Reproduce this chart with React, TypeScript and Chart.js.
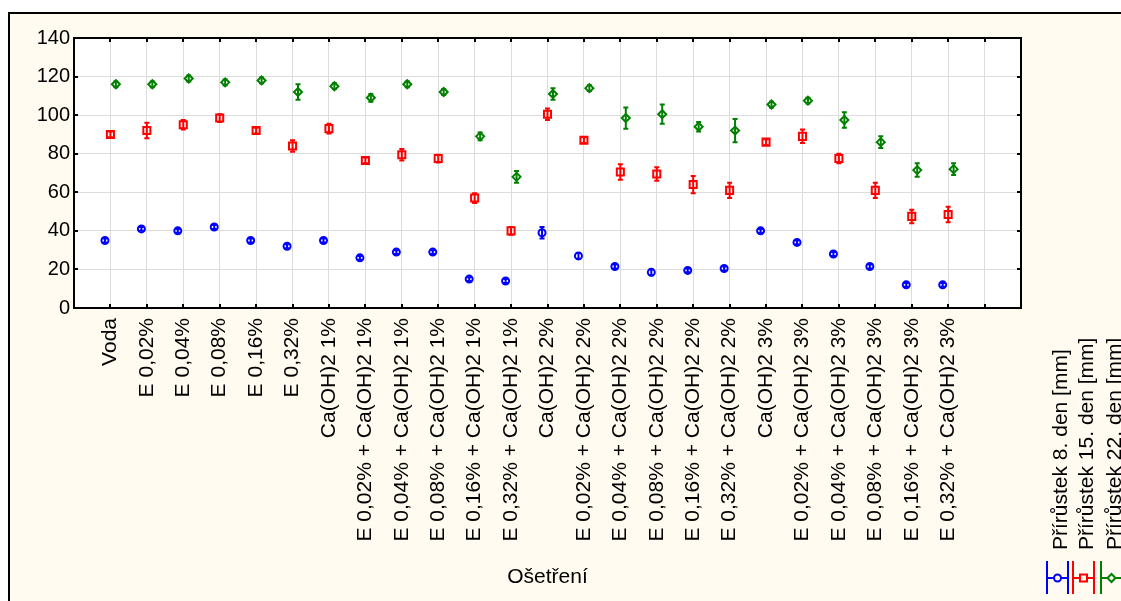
import React, { useEffect, useRef } from "react";
import { Chart, registerables } from "chart.js";

Chart.register(...registerables);

const categories = [
  "Voda",
  "E 0,02%",
  "E 0,04%",
  "E 0,08%",
  "E 0,16%",
  "E 0,32%",
  "Ca(OH)2 1%",
  "E 0,02% + Ca(OH)2 1%",
  "E 0,04% + Ca(OH)2 1%",
  "E 0,08% + Ca(OH)2 1%",
  "E 0,16% + Ca(OH)2 1%",
  "E 0,32% + Ca(OH)2 1%",
  "Ca(OH)2 2%",
  "E 0,02% + Ca(OH)2 2%",
  "E 0,04% + Ca(OH)2 2%",
  "E 0,08% + Ca(OH)2 2%",
  "E 0,16% + Ca(OH)2 2%",
  "E 0,32% + Ca(OH)2 2%",
  "Ca(OH)2 3%",
  "E 0,02% + Ca(OH)2 3%",
  "E 0,04% + Ca(OH)2 3%",
  "E 0,08% + Ca(OH)2 3%",
  "E 0,16% + Ca(OH)2 3%",
  "E 0,32% + Ca(OH)2 3%",
];

const seriesNames = [
  "Přírůstek 8. den [mm]",
  "Přírůstek 15. den [mm]",
  "Přírůstek 22. den [mm]",
];

const day8 = [35, 41, 40, 42, 35, 32, 35, 26, 29, 29, 15, 14, 39, 27, 21.5, 18.5, 19.5, 20.5, 40, 34, 28, 21.5, 12, 12];
const day15 = [90, 92, 95, 98.5, 92, 84, 93, 76.5, 79.5, 77.5, 57, 40, 100.5, 87, 70.5, 69.5, 64, 61, 86, 89, 77.5, 61, 47.5, 48.5];
const day22 = [116, 116, 119, 117, 118, 112, 115, 109, 116, 112, 89, 68, 111, 114, 98.5, 100.5, 94, 92, 105.5, 107.5, 97.5, 86, 71.5, 72];

const err8 = [1, 1, 1, 1, 1, 1, 1, 1, 1, 1, 1, 1, 3, 1.5, 1, 1.5, 1, 1, 1, 1, 1, 1, 1, 1];
const err15 = [1.5, 4, 2.5, 2, 1.5, 3, 2.5, 1.5, 3, 2, 2.5, 2, 3, 1.5, 4, 3.5, 4.5, 4, 1.5, 3.5, 2.5, 4, 3.5, 4];
const err22 = [1.5, 1.5, 1.5, 1.5, 1.5, 4, 1.5, 2, 1.5, 1.5, 2, 3, 3, 1.5, 5.5, 5, 2.5, 6, 1.5, 1.5, 4, 3, 3.5, 3];

const yTicks = [0, 20, 40, 60, 80, 100, 120, 140];

const FONT = "'Liberation Sans', Arial, sans-serif";
const colors = ["#0000ff", "#ff0000", "#008000"];
const styles = ["circle", "rect", "rectRot"];
const radii = [3.5, 5, 4];
const offsets = [-0.15, 0, 0.15];
const values = [day8, day15, day22];
const errors = [err8, err15, err22];

const framePlugin = {
  id: "frame",
  beforeDraw(chart: any) {
    const { ctx, width, height, chartArea } = chart;
    ctx.save();
    ctx.fillStyle = "#ffffff";
    ctx.fillRect(0, 0, width, height);
    ctx.fillStyle = "#fffbf0";
    ctx.fillRect(8, 12, width - 8, height - 12);
    ctx.strokeStyle = "#000000";
    ctx.lineWidth = 2;
    ctx.beginPath();
    ctx.moveTo(9, height + 2);
    ctx.lineTo(9, 13);
    ctx.lineTo(width + 2, 13);
    ctx.stroke();
    ctx.fillStyle = "#ffffff";
    ctx.fillRect(chartArea.left, chartArea.top, chartArea.right - chartArea.left, chartArea.bottom - chartArea.top);
    ctx.restore();
  },
  beforeDatasetsDraw(chart: any) {
    const { ctx, scales } = chart;
    ctx.save();
    ctx.lineWidth = 2;
    values.forEach((vals, s) => {
      ctx.strokeStyle = colors[s];
      vals.forEach((v, i) => {
        const x = scales.x.getPixelForValue(i + 1 + offsets[s]);
        const yt = scales.y.getPixelForValue(v + errors[s][i]);
        const yb = scales.y.getPixelForValue(v - errors[s][i]);
        ctx.beginPath();
        ctx.moveTo(x, yt);
        ctx.lineTo(x, yb);
        ctx.moveTo(x - 2.5, yt);
        ctx.lineTo(x + 2.5, yt);
        ctx.moveTo(x - 2.5, yb);
        ctx.lineTo(x + 2.5, yb);
        ctx.stroke();
      });
    });
    ctx.restore();
  },
  afterDraw(chart: any) {
    const { ctx, chartArea, scales } = chart;
    const { left, right, top, bottom } = chartArea;
    ctx.save();
    ctx.strokeStyle = "#000000";
    ctx.lineWidth = 2;
    ctx.strokeRect(left, top, right - left, bottom - top);
    ctx.beginPath();
    for (let k = 1; k <= 25; k++) {
      const x = Math.round(scales.x.getPixelForValue(k));
      ctx.moveTo(x, top);
      ctx.lineTo(x, top + 4);
      ctx.moveTo(x, bottom);
      ctx.lineTo(x, bottom - 4);
    }
    yTicks.slice(1, -1).forEach((t) => {
      const y = Math.round(scales.y.getPixelForValue(t));
      ctx.moveTo(left, y);
      ctx.lineTo(left + 4, y);
      ctx.moveTo(right, y);
      ctx.lineTo(right - 4, y);
    });
    ctx.stroke();

    // legend
    const xs = [1047, 1073, 1101];
    seriesNames.forEach((name, s) => {
      const x0 = xs[s];
      const w = 21;
      ctx.strokeStyle = colors[s];
      ctx.lineWidth = 2;
      ctx.beginPath();
      ctx.moveTo(x0, 561);
      ctx.lineTo(x0, 594);
      ctx.moveTo(x0 + w, 561);
      ctx.lineTo(x0 + w, 594);
      ctx.moveTo(x0, 578);
      ctx.lineTo(x0 + w, 578);
      ctx.stroke();
      ctx.fillStyle = "#fffbf0";
      const cx = x0 + w / 2;
      ctx.beginPath();
      if (styles[s] === "circle") ctx.arc(cx, 578, 3.5, 0, Math.PI * 2);
      else if (styles[s] === "rect") ctx.rect(cx - 3.5, 574.5, 7, 7);
      else {
        ctx.moveTo(cx, 574);
        ctx.lineTo(cx + 4, 578);
        ctx.lineTo(cx, 582);
        ctx.lineTo(cx - 4, 578);
        ctx.closePath();
      }
      ctx.fill();
      ctx.stroke();
      ctx.save();
      ctx.translate(x0 + 20, 550);
      ctx.rotate(-Math.PI / 2);
      ctx.fillStyle = "#000000";
      ctx.font = `21px ${FONT}`;
      ctx.textAlign = "left";
      ctx.textBaseline = "alphabetic";
      ctx.fillText(name, 0, 0);
      ctx.restore();
    });
    ctx.restore();
  },
};

export default function App() {
  const ref = useRef<HTMLCanvasElement>(null);
  useEffect(() => {
    if (!ref.current) return;
    const datasets = values.map((vals, s) => ({
      label: seriesNames[s],
      data: vals.map((v, i) => ({ x: i + 1 + offsets[s], y: v })),
      pointStyle: styles[s] as any,
      pointRadius: radii[s],
      pointHoverRadius: radii[s],
      borderWidth: 2,
      borderColor: colors[s],
      backgroundColor: "rgba(0,0,0,0)",
      showLine: false,
    }));
    const chart = new Chart(ref.current, {
      type: "scatter",
      data: { datasets },
      plugins: [framePlugin],
      options: {
        animation: false,
        responsive: false,
        events: [],
        layout: { padding: { left: 0, top: 38, right: 100, bottom: 0 } },
        plugins: { legend: { display: false }, tooltip: { enabled: false } },
        scales: {
          x: {
            type: "linear",
            min: 0,
            max: 26,
            afterBuildTicks: (scale: any) => {
              scale.ticks = Array.from({ length: 27 }, (_, k) => ({ value: k }));
            },
            afterFit: (scale: any) => {
              scale.height = 293;
            },
            ticks: {
              autoSkip: false,
              minRotation: 90,
              maxRotation: 90,
              padding: 10,
              color: "#000000",
              font: { family: FONT, size: 21 },
              callback: (v: any) => categories[Number(v) - 1] ?? "",
            },
            grid: { color: "#dcdcdc", lineWidth: 1, drawTicks: false },
            border: { display: false },
            title: {
              display: true,
              text: "Ošetření",
              color: "#000000",
              font: { family: FONT, size: 21 },
              padding: { top: 0, bottom: 11 },
            },
          },
          y: {
            type: "linear",
            min: 0,
            max: 140,
            afterBuildTicks: (scale: any) => {
              scale.ticks = yTicks.map((t) => ({ value: t }));
            },
            afterFit: (scale: any) => {
              scale.width = 74;
            },
            ticks: {
              padding: 4,
              color: "#000000",
              font: { family: FONT, size: 20 },
            },
            grid: { color: "#dcdcdc", lineWidth: 1, drawTicks: false },
            border: { display: false },
          },
        },
      },
    });
    return () => chart.destroy();
  }, []);
  return (
    <div style={{ position: "fixed", left: 0, top: 0, width: 1121, height: 601 }}>
      <canvas ref={ref} width={1121} height={601} style={{ display: "block", width: 1121, height: 601 }} />
    </div>
  );
}
